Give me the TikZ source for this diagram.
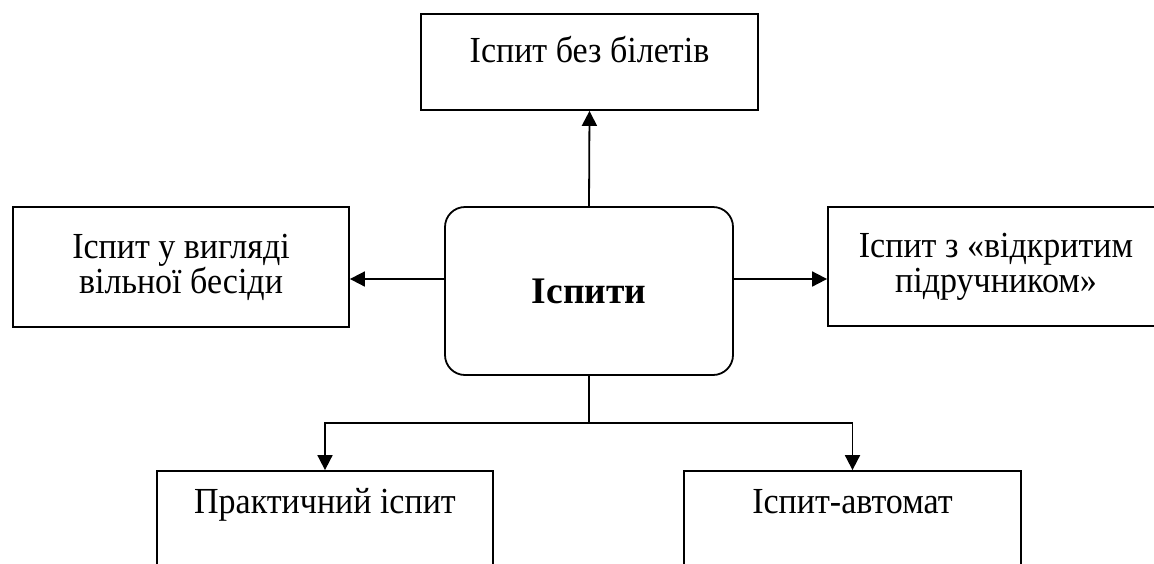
\documentclass[tikz,border=0pt]{standalone}
\usepackage{fontspec}
\setmainfont{Liberation Serif}
\usetikzlibrary{arrows.meta,calc}
\newcommand\stx[1]{\scalebox{1}[1.08]{#1}}
\begin{document}
\begin{tikzpicture}[x=1pt,y=-1pt,
  box/.style={draw,line width=1.8pt,rectangle,inner sep=0pt,
    font=\fontsize{34}{35}\selectfont,align=center},
  lbl/.style={font=\fontsize{34}{35}\selectfont,align=center,inner sep=0pt},
  arr/.style={line width=1.8pt,-{Triangle[length=15pt,width=15pt]}}]
\useasboundingbox (0,0) rectangle (1154,563);
\clip (0,0) rectangle (1154,563);
% boxes
\node[box,minimum width=337pt,minimum height=96pt] (top) at (589.5,62) {};
\node[box,minimum width=336pt,minimum height=120pt] (left) at (181,267) {\stx{Іспит у вигляді}\\\stx{вільної бесіди}};
\node[box,minimum width=336pt,minimum height=119pt] (right) at (996,266.5) {\stx{Іспит з «відкритим}\\\stx{підручником»}};
\node[box,rounded corners=20pt,minimum width=288pt,minimum height=168pt,
  font=\fontsize{37.5}{37.5}\selectfont\bfseries] (c) at (589,291) {Іспити};
\node[box,minimum width=336pt,minimum height=129pt] (bl) at (325,535.5) {};
\node[box,minimum width=337pt,minimum height=129pt] (br) at (852.5,535.5) {};
% texts
\node[lbl,anchor=base] (toptxt) at (589.5,62) {\stx{Іспит без білетів}};
\node[lbl,anchor=base] (bltxt) at (325,513) {\stx{Практичний іспит}};
\node[lbl,anchor=base] (brtxt) at (852.5,513) {\stx{Іспит-автомат}};
% connectors
\draw[arr] (c.north) -- (top.south);
\coordinate (lv) at (0,279);
\draw[arr] (c.west |- lv) -- (left.east |- lv);
\draw[arr] (c.east |- lv) -- (right.west |- lv);
\coordinate (hv) at (0,423);
\draw[arr] (c.south) -- (c.south |- hv) -| (bl.north);
\draw[arr] (c.south |- hv) -| (br.north);
\end{tikzpicture}
\end{document}
